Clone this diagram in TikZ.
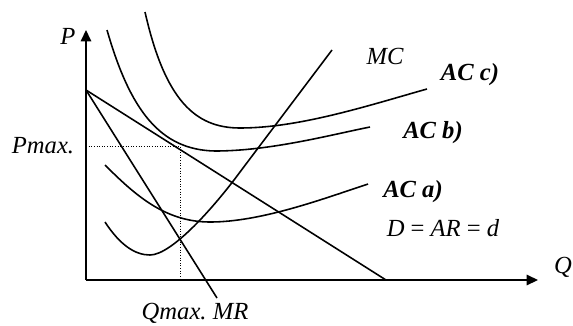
\documentclass[tikz,border=0pt]{standalone}
\usepackage{fontspec}
\setmainfont{Liberation Serif}
\usepackage{tikz}
\usetikzlibrary{arrows.meta,positioning,calc}

\tikzset{
  axis/.style={line width=0.8pt, -{Triangle[length=6.5pt,width=6pt]}},
  cost/.style={line width=0.9pt},
  guide/.style={densely dotted, line width=0.5pt},
  lbl/.style={font=\fontsize{14}{16}\selectfont\itshape, inner sep=0pt},
  lblb/.style={font=\fontsize{14}{16}\selectfont\bfseries\itshape, inner sep=0pt}
}

\begin{document}
\begin{tikzpicture}[x=0.02cm, y=-0.02cm]
  \useasboundingbox (0,0) rectangle (573,325);
  % axes
  \coordinate (O) at (86,280);
  \coordinate (ptop) at (86,30);
  \coordinate (qend) at (538,280);
  \draw[axis] (O) -- (ptop);
  \draw[axis] (O) -- (qend);
  \node[lbl] (plab) at (68,36) {P};
  \node[lbl] (qlab) at (563,267) {Q};

  % demand and marginal revenue
  \coordinate (pint) at (86,90);
  \coordinate (dend) at (386,280);
  \coordinate (mrend) at (217,298);
  \draw[cost] (pint) -- (dend);
  \draw[cost] (pint) -- (mrend);

  % optimum
  \coordinate (opt) at (180,146);
  \coordinate (optp) at (86,146);
  \coordinate (optq) at (180,280);
  \draw[guide] (optp) -- (opt) -- (optq);
  \node[lbl] (pmax) at (43,146) {Pmax.};
  \node[lbl] (qmax) at (195,313) {Qmax.\ MR};

  % average cost curves
  \draw[cost] (145,12) .. controls (165,100) and (195,128) .. (240,128)
              .. controls (300,128) and (370,105) .. (427,89);
  \draw[cost] (107,30) .. controls (130,110) and (160,150) .. (215,151)
              .. controls (270,151) and (330,135) .. (370,127);
  \draw[cost] (105,165) .. controls (135,195) and (165,222) .. (210,222)
              .. controls (260,222) and (320,200) .. (368,184);
  % marginal cost
  \draw[cost] (105,222) .. controls (120,245) and (135,255) .. (150,255)
              .. controls (172,255) and (215,206) .. (240,172) -- (332,50);

  \node[lbl] (mc) at (385,56) {MC};
  \node[lblb] (acc) at (470,75) {AC c)};
  \node[lblb] (acb) at (433,133) {AC b)};
  \node[lblb] (aca) at (413,192) {AC a)};
  \node[lbl] (dar) at (443,228) {D {\upshape=} AR {\upshape=} d};
\end{tikzpicture}
\end{document}
